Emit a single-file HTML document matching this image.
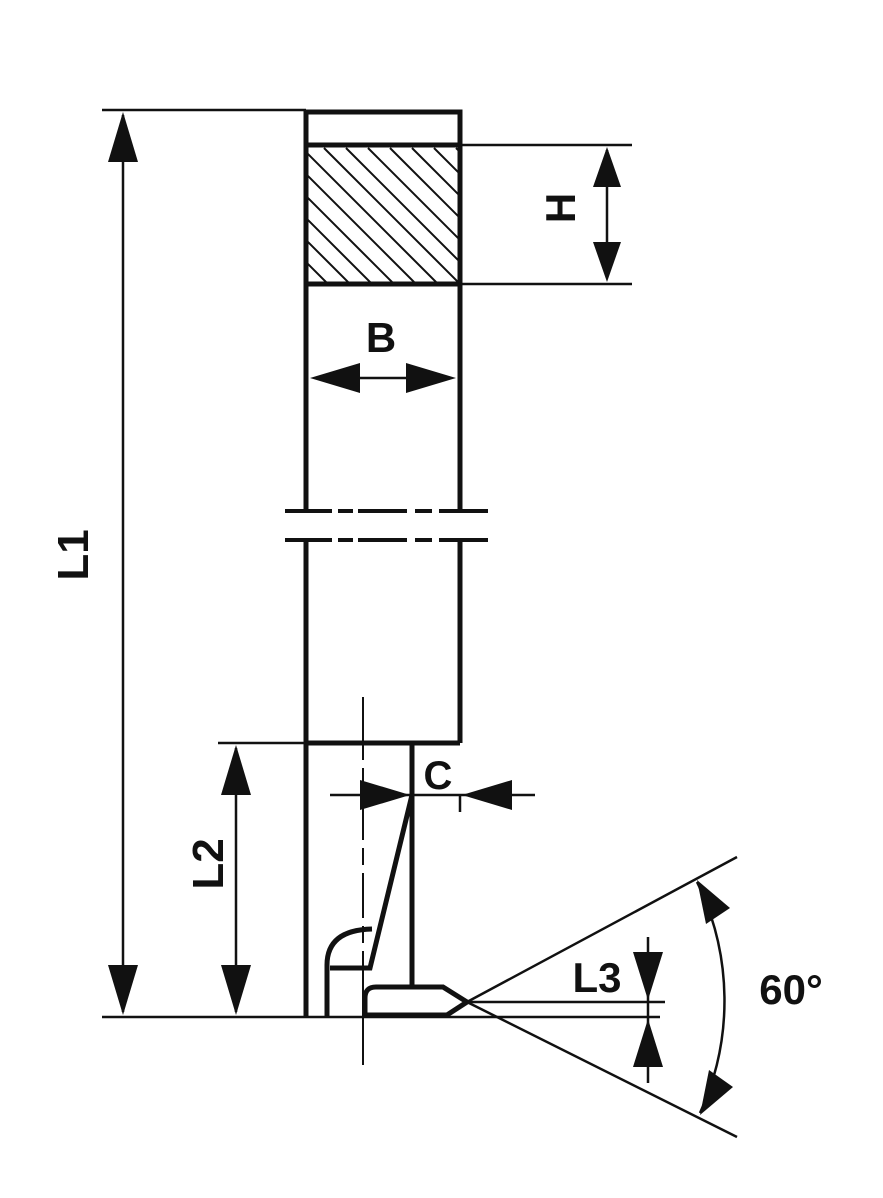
<!DOCTYPE html>
<html><head><meta charset="utf-8"><style>
html,body{margin:0;padding:0;background:#fff;}
svg{display:block;}
text{font-family:"Liberation Sans",sans-serif;font-weight:bold;fill:#111;}
</style></head><body>
<svg width="883" height="1198" viewBox="0 0 883 1198" xmlns="http://www.w3.org/2000/svg">
<defs>
<clipPath id="hc"><rect x="308" y="147" width="150" height="136"/></clipPath>
</defs>
<g stroke="#111" fill="none">
<g clip-path="url(#hc)" stroke-width="2">
<path d="M170 148 l140 140 M192 148 l140 140 M214 148 l140 140 M236 148 l140 140 M258 148 l140 140 M280 148 l140 140 M302 148 l140 140 M324 148 l140 140 M346 148 l140 140 M368 148 l140 140 M390 148 l140 140 M412 148 l140 140 M434 148 l140 140 M456 148 l140 140"/>
</g>
<g stroke-width="5">
<path d="M306 510 V112 H460 V510"/>
<path d="M306 145 H460 M306 284 H460"/>
<path d="M306 541 V1017 M460 541 V743 M306 743 H460"/>
<path d="M412 743 V987"/>
<path d="M412 795 L370 968 H330"/>
<path d="M327 1017 V965 Q327 930 372 929"/>
<path d="M365 1015 V998 Q365 987 376 987 H443 L467 1002 L447 1015 Z"/>
</g>
<g stroke-width="4">
<path d="M285 511 H332 M338 511 H353 M358 511 H407 M415 511 H432 M439 511 H488"/>
<path d="M285 540 H332 M338 540 H353 M358 540 H407 M415 540 H432 M439 540 H488"/>
</g>
<g stroke-width="2.5">
<path d="M102 110 H306 M102 1017 H660 M460 145 H632 M460 284 H632 M218 743 H306"/>
<path d="M123 115 V1012 M236 748 V1012 M607 150 V278 M330 795 H535 M460 795 V812 M648 937 V1083 M467 1002 H665"/>
<path d="M467 1002 L737 857 M467 1002 L737 1137"/>
<path d="M697 882 A270 270 0 0 1 700 1113"/>
<path d="M363 697 V760 M363 768 V785 M363 795 V840 M363 848 V865 M363 873 V918 M363 926 V943 M363 951 V1065" stroke-width="2"/>
<path d="M350 378 H420"/>
</g>
</g>
<g fill="#111">
<polygon points="123,112 108,162 138,162"/>
<polygon points="123,1015 108,965 138,965"/>
<polygon points="236,745 221,795 251,795"/>
<polygon points="236,1015 221,965 251,965"/>
<polygon points="607,147 593,187 621,187"/>
<polygon points="607,282 593,242 621,242"/>
<polygon points="310,378 360,363 360,393"/>
<polygon points="456,378 406,363 406,393"/>
<polygon points="410,795 360,780 360,810"/>
<polygon points="462,795 512,780 512,810"/>
<polygon points="648,1000 633,952 663,952"/>
<polygon points="648,1019 633,1067 663,1067"/>
<polygon points="697,880 706,924 730,908"/>
<polygon points="700,1115 709,1070 733,1087"/>
</g>
<text x="381" y="352" font-size="42" text-anchor="middle">B</text>
<text x="438" y="789" font-size="40" text-anchor="middle">C</text>
<text x="597" y="992" font-size="42" text-anchor="middle">L3</text>
<text x="791" y="1004" font-size="42" text-anchor="middle">60°</text>
<text transform="translate(88,555) rotate(-90)" font-size="44" text-anchor="middle">L1</text>
<text transform="translate(223,864) rotate(-90)" font-size="44" text-anchor="middle">L2</text>
<text transform="translate(575,208) rotate(-90)" font-size="42" text-anchor="middle">H</text>
</svg>
</body></html>
